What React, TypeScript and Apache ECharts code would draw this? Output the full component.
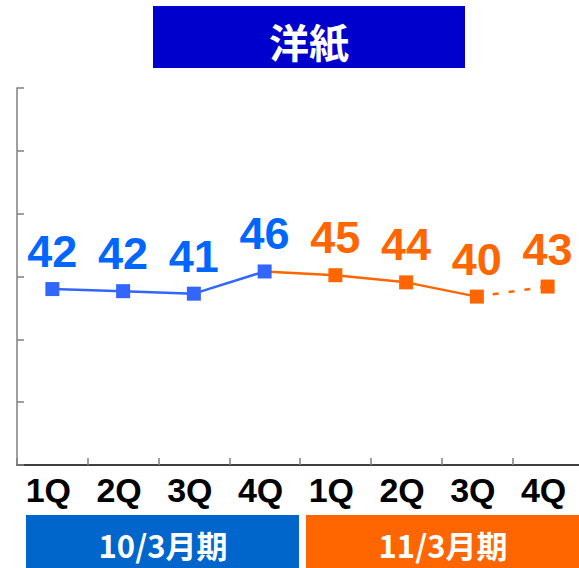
import React, { useEffect, useRef } from "react";
import * as echarts from "echarts";

const titleText = "洋紙";
const categories = ["1Q", "2Q", "3Q", "4Q", "1Q", "2Q", "3Q", "4Q"];
const values = [42.0, 41.5, 40.9, 46.2, 45.3, 43.6, 40.2, 42.6];
const periodLabels = ["10/3月期", "11/3月期"];
const yMin = 0;
const yMax = 90;
const yInterval = 15;

const BLUE = "#3366FF";
const BLUE_TEXT = "#0066FF";
const ORANGE = "#FF6600";

export default function App() {
  const ref = useRef<HTMLDivElement>(null);
  useEffect(() => {
    document.body.style.margin = "0";
    document.body.style.overflow = "hidden";
    if (!ref.current) return;
    const chart = echarts.init(ref.current, undefined, { renderer: "svg" });
    const labelFmt = (p: any) => String(Math.round(Number(p.value)));
    const hidden = (v: number) => ({ value: v, symbol: "none", label: { show: false } });
    const blueData = values.map((v, i) => (i <= 3 ? v : "-"));
    const orangeData = values.map((v, i) => (i >= 3 && i <= 6 ? (i === 3 ? hidden(v) : v) : "-"));
    const dottedData = values.map((v, i) => (i >= 6 ? (i === 6 ? hidden(v) : v) : "-"));
    const labelBase = {
      show: true,
      position: "top",
      distance: 8,
      fontSize: 45,
      fontWeight: "bold",
      fontFamily: "Liberation Sans, Arial, sans-serif",
      formatter: labelFmt,
    };
    const periodFont = "bold 31px 'Noto Sans CJK JP', sans-serif";
    chart.setOption({
      animation: false,
      backgroundColor: "#ffffff",
      grid: { left: 17, top: 88, width: 566, height: 377 },
      xAxis: {
        type: "category",
        data: categories,
        boundaryGap: true,
        axisLine: { show: true, lineStyle: { color: "#000000", width: 1.5 } },
        axisTick: { show: true, inside: true, length: 7, lineStyle: { color: "#808080", width: 1.5 } },
        axisLabel: {
          color: "#000000",
          fontSize: 34,
          fontWeight: "bold",
          fontFamily: "Liberation Sans, Arial, sans-serif",
          margin: 8,
          padding: [0, 8, 0, 0],
        },
        splitLine: { show: false },
      },
      yAxis: {
        type: "value",
        min: yMin,
        max: yMax,
        interval: yInterval,
        axisLine: { show: true, lineStyle: { color: "#808080", width: 1.5 } },
        axisTick: { show: true, inside: true, length: 7, lineStyle: { color: "#808080", width: 1.5 } },
        axisLabel: { show: false },
        splitLine: { show: false },
      },
      series: [
        {
          type: "line",
          data: orangeData,
          symbol: "rect",
          symbolSize: 14,
          z: 2,
          lineStyle: { color: ORANGE, width: 2.5 },
          itemStyle: { color: ORANGE },
          label: { ...labelBase, color: ORANGE },
        },
        {
          type: "line",
          data: dottedData,
          symbol: "rect",
          symbolSize: 14,
          z: 2,
          lineStyle: { color: ORANGE, width: 2.5, type: [6, 10] },
          itemStyle: { color: ORANGE },
          label: { ...labelBase, color: ORANGE },
        },
        {
          type: "line",
          data: blueData,
          symbol: "rect",
          symbolSize: 14,
          z: 3,
          lineStyle: { color: BLUE, width: 2.5 },
          itemStyle: { color: BLUE },
          label: { ...labelBase, color: BLUE_TEXT },
        },
      ],
      graphic: [
        { type: "rect", shape: { x: 153, y: 6, width: 312, height: 62 }, style: { fill: "#0000CC" } },
        {
          type: "text",
          x: 309,
          y: 41,
          style: {
            text: titleText,
            fill: "#ffffff",
            font: "bold 40px 'Noto Sans CJK JP', sans-serif",
            textAlign: "center",
            textVerticalAlign: "middle",
          },
        },
        { type: "rect", shape: { x: 26, y: 515, width: 273, height: 60 }, style: { fill: "#0066CC" } },
        { type: "rect", shape: { x: 306, y: 515, width: 280, height: 60 }, style: { fill: "#FF6600" } },
        {
          type: "text",
          x: 163,
          y: 544,
          style: {
            text: periodLabels[0],
            fill: "#ffffff",
            font: periodFont,
            textAlign: "center",
            textVerticalAlign: "middle",
          },
        },
        {
          type: "text",
          x: 443,
          y: 544,
          style: {
            text: periodLabels[1],
            fill: "#ffffff",
            font: periodFont,
            textAlign: "center",
            textVerticalAlign: "middle",
          },
        },
      ],
    });
    return () => chart.dispose();
  }, []);
  return <div ref={ref} style={{ width: 590, height: 568 }} />;
}
